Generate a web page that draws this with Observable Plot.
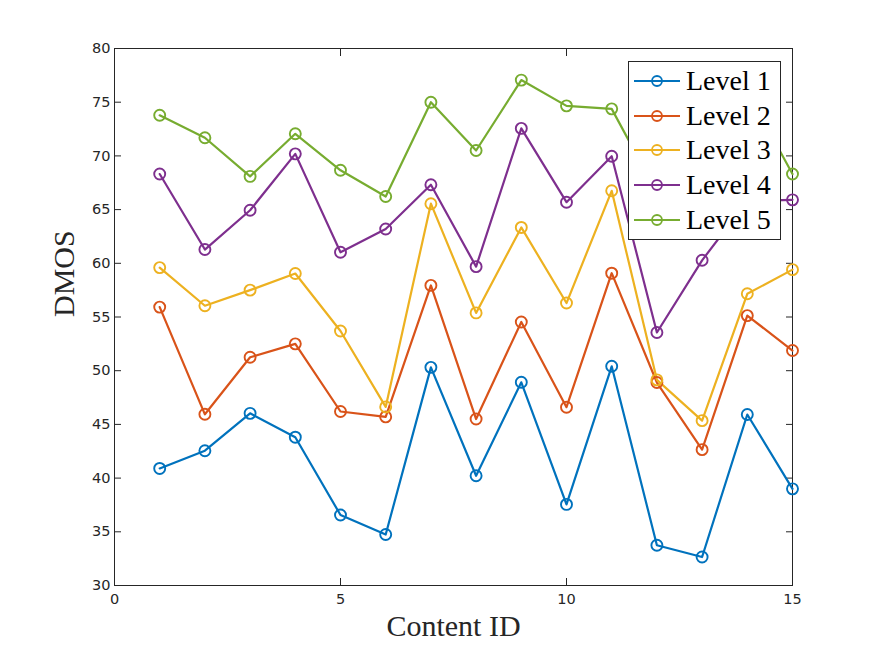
<!DOCTYPE html>
<html>
<head>
<meta charset="utf-8">
<script src="https://cdn.jsdelivr.net/npm/d3@7"></script>
<script src="https://cdn.jsdelivr.net/npm/@observablehq/plot@0.6"></script>
<style>
  html, body { margin: 0; padding: 0; background: #fff; }
  #wrap { position: relative; width: 876px; height: 657px; }
  #legend {
    position: absolute; left: 628px; top: 61px; width: 153px; height: 179px;
    background: #fff; border: 1px solid #262626; box-sizing: border-box;
    font-family: "Liberation Serif", "DejaVu Serif", serif; font-size: 28px; color: #000;
    padding-top: 2px;
  }
  #legend .row { display: flex; align-items: center; height: 34.6px; }
  #legend svg { margin-left: 5px; margin-right: 6px; }
</style>
</head>
<body>
<div id="wrap"></div>
<script>
const contentIds = [1,2,3,4,5,6,7,8,9,10,11,12,13,14,15];
const levels = ["Level 1","Level 2","Level 3","Level 4","Level 5"];
const colors = ["#0072BD","#D95319","#EDB120","#7E2F8E","#77AC30"];
const level1 = [40.9,42.55,46.03,43.81,36.56,34.75,50.31,40.22,48.92,37.55,50.41,33.75,32.65,45.92,39.0];
const level2 = [55.92,45.94,51.25,52.5,46.2,45.7,57.94,45.5,54.54,46.6,59.08,48.9,42.65,55.13,51.88];
const level3 = [59.6,56.05,57.5,59.05,53.7,46.63,65.55,55.38,63.34,56.3,66.75,49.15,45.35,57.16,59.41];
const level4 = [68.31,61.28,64.94,70.19,61.03,63.19,67.31,59.69,72.56,65.69,69.97,53.56,60.28,65.8,65.91];
const level5 = [73.78,71.69,68.09,72.06,68.66,66.22,75.0,70.5,77.06,74.66,74.38,66.6,67.0,76.0,68.31];
const xTicks = [0,5,10,15];
const yTicks = [30,35,40,45,50,55,60,65,70,75,80];

const series = [level1, level2, level3, level4, level5];
const data = [];
series.forEach((vals, i) => vals.forEach((v, j) => data.push({level: levels[i], id: contentIds[j], dmos: v})));

const axisColor = "#262626";
const tickFont = {fontFamily: "DejaVu Sans, Liberation Sans, sans-serif", fontSize: 14.5};
const labelFont = {fontFamily: "Liberation Serif, DejaVu Serif, serif", fontSize: 30, fill: "#262626"};

const chart = Plot.plot({
  width: 876,
  height: 657,
  marginLeft: 114,
  marginRight: 84,
  marginTop: 48,
  marginBottom: 72,
  style: {background: "#fff", color: axisColor, fontFamily: "DejaVu Sans, Liberation Sans, sans-serif", fontSize: "14.5px"},
  x: {domain: [0, 15]},
  y: {domain: [30, 80]},
  color: {domain: levels, range: colors},
  marks: [
    Plot.frame({stroke: axisColor, strokeWidth: 1}),
    Plot.axisX({anchor: "bottom", ticks: xTicks, tickSize: -7, tickPadding: 15, label: null, stroke: axisColor, fill: axisColor, ...tickFont}),
    Plot.axisX({anchor: "top", ticks: xTicks, tickSize: -7, tickFormat: () => "", label: null, stroke: axisColor}),
    Plot.axisY({anchor: "left", ticks: yTicks, tickSize: -7, tickPadding: 11, label: null, stroke: axisColor, fill: axisColor, ...tickFont}),
    Plot.axisY({anchor: "right", ticks: yTicks, tickSize: -7, tickFormat: () => "", label: null, stroke: axisColor}),
    Plot.line(data, {x: "id", y: "dmos", z: "level", stroke: "level", strokeWidth: 2.2}),
    Plot.dot(data, {x: "id", y: "dmos", stroke: "level", r: 5.5, strokeWidth: 1.9, fill: "none"}),
    Plot.text(["Content ID"], {frameAnchor: "bottom", dy: 50, ...labelFont}),
    Plot.text(["DMOS"], {frameAnchor: "left", dx: -50, rotate: -90, ...labelFont})
  ]
});

const wrap = document.getElementById("wrap");
wrap.appendChild(chart);

const legend = document.createElement("div");
legend.id = "legend";
levels.forEach((lv, i) => {
  const row = document.createElement("div");
  row.className = "row";
  row.innerHTML = `<svg width="46" height="16" viewBox="0 0 46 16"><line x1="0" y1="8" x2="46" y2="8" stroke="${colors[i]}" stroke-width="2.2"/><circle cx="23" cy="8" r="5" fill="none" stroke="${colors[i]}" stroke-width="1.8"/></svg><span>${lv}</span>`;
  legend.appendChild(row);
});
wrap.appendChild(legend);
</script>
</body>
</html>
